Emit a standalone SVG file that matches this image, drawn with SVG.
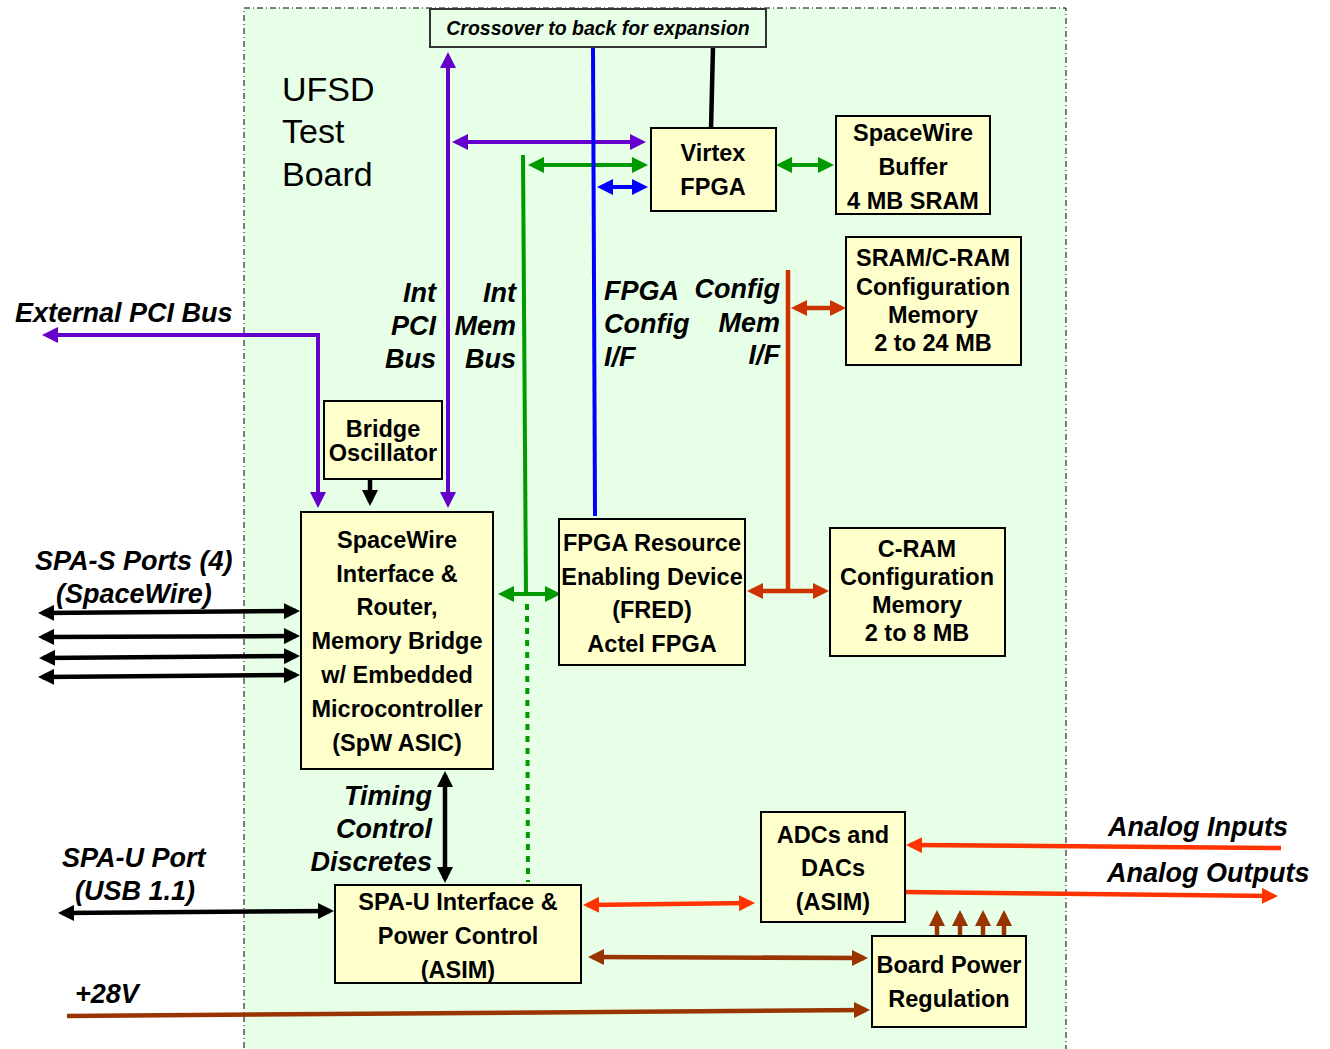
<svg xmlns="http://www.w3.org/2000/svg" width="1330" height="1049" viewBox="0 0 1330 1049">
<style>
.nb{fill:#ffffcc;stroke:#000;stroke-width:2}
.nt{font-family:"Liberation Sans",Arial,sans-serif;font-weight:bold;font-size:23.5px;fill:#000;text-anchor:middle}
.lb{font-family:"Liberation Sans",Arial,sans-serif;font-weight:bold;font-style:italic;font-size:27px;fill:#000}
.r{text-anchor:end}
.c{fill:none;stroke-linecap:butt;stroke-linejoin:miter}
.pu{stroke:#6600cc;stroke-width:4}
.gr{stroke:#009900;stroke-width:4}
.bl{stroke:#0000ff;stroke-width:4}
.bk{stroke:#000;stroke-width:4.5}
.rd{stroke:#cc3300;stroke-width:4.5}
.or{stroke:#ff3300;stroke-width:4.5}
.br{stroke:#993300;stroke-width:4.5}
</style>
<defs>
<marker id="aPu" viewBox="0 0 16 16" markerWidth="16" markerHeight="16" refX="12" refY="8" orient="auto-start-reverse" markerUnits="userSpaceOnUse"><path d="M0,0L16,8L0,16z" fill="#6600cc"/></marker>
<marker id="aGr" viewBox="0 0 16 16" markerWidth="16" markerHeight="16" refX="12" refY="8" orient="auto-start-reverse" markerUnits="userSpaceOnUse"><path d="M0,0L16,8L0,16z" fill="#009900"/></marker>
<marker id="aBl" viewBox="0 0 16 16" markerWidth="16" markerHeight="16" refX="12" refY="8" orient="auto-start-reverse" markerUnits="userSpaceOnUse"><path d="M0,0L16,8L0,16z" fill="#0000ff"/></marker>
<marker id="aBk" viewBox="0 0 16 16" markerWidth="16" markerHeight="16" refX="12" refY="8" orient="auto-start-reverse" markerUnits="userSpaceOnUse"><path d="M0,0L16,8L0,16z" fill="#000"/></marker>
<marker id="aRd" viewBox="0 0 16 16" markerWidth="16" markerHeight="16" refX="12" refY="8" orient="auto-start-reverse" markerUnits="userSpaceOnUse"><path d="M0,0L16,8L0,16z" fill="#cc3300"/></marker>
<marker id="aOr" viewBox="0 0 16 16" markerWidth="16" markerHeight="16" refX="12" refY="8" orient="auto-start-reverse" markerUnits="userSpaceOnUse"><path d="M0,0L16,8L0,16z" fill="#ff3300"/></marker>
<marker id="aBr" viewBox="0 0 16 16" markerWidth="16" markerHeight="16" refX="12" refY="8" orient="auto-start-reverse" markerUnits="userSpaceOnUse"><path d="M0,0L16,8L0,16z" fill="#993300"/></marker>
</defs>
<rect width="1330" height="1049" fill="#fff"/>
<g id="board">
<rect x="244" y="8" width="822" height="1050" fill="#e6ffe6" stroke="#000" stroke-width="1" stroke-dasharray="6 3 1 3"/>
<text x="282" y="101" font-family="'Liberation Sans',Arial,sans-serif" font-size="34" fill="#000">UFSD</text>
<text x="282" y="143" font-family="'Liberation Sans',Arial,sans-serif" font-size="34" fill="#000">Test</text>
<text x="282" y="186" font-family="'Liberation Sans',Arial,sans-serif" font-size="34" fill="#000">Board</text>
</g>
<g id="connectors">
<line class="c bk" x1="713" y1="47" x2="711" y2="129"/>
<line class="c pu" x1="448" y1="56" x2="448" y2="504" marker-start="url(#aPu)" marker-end="url(#aPu)"/>
<line class="c pu" x1="456" y1="142" x2="642" y2="142" marker-start="url(#aPu)" marker-end="url(#aPu)"/>
<polyline class="c pu" points="318,504 318,335 46,335" marker-start="url(#aPu)" marker-end="url(#aPu)"/>
<line class="c gr" x1="523" y1="155" x2="526" y2="596"/>
<line class="c gr" x1="527" y1="604" x2="528" y2="882" stroke-width="5" stroke-dasharray="6 6"/>
<line class="c gr" x1="532" y1="165" x2="644" y2="165" marker-start="url(#aGr)" marker-end="url(#aGr)"/>
<line class="c gr" x1="780" y1="165" x2="830" y2="165" marker-start="url(#aGr)" marker-end="url(#aGr)"/>
<line class="c gr" x1="502" y1="594" x2="557" y2="594" marker-start="url(#aGr)" marker-end="url(#aGr)"/>
<line class="c bl" x1="593" y1="47" x2="595" y2="516"/>
<line class="c bl" x1="601" y1="187" x2="644" y2="187" marker-start="url(#aBl)" marker-end="url(#aBl)"/>
<line class="c bk" x1="370" y1="479" x2="370" y2="502" marker-end="url(#aBk)"/>
<line class="c bk" x1="42" y1="613" x2="296" y2="611" stroke-width="5" marker-start="url(#aBk)" marker-end="url(#aBk)"/>
<line class="c bk" x1="42" y1="637" x2="296" y2="636" stroke-width="5" marker-start="url(#aBk)" marker-end="url(#aBk)"/>
<line class="c bk" x1="43" y1="658" x2="296" y2="656" stroke-width="5" marker-start="url(#aBk)" marker-end="url(#aBk)"/>
<line class="c bk" x1="42" y1="677" x2="296" y2="675" stroke-width="5" marker-start="url(#aBk)" marker-end="url(#aBk)"/>
<line class="c bk" x1="445" y1="775" x2="445" y2="879" marker-start="url(#aBk)" marker-end="url(#aBk)"/>
<line class="c bk" x1="62" y1="913" x2="330" y2="911" stroke-width="5" marker-start="url(#aBk)" marker-end="url(#aBk)"/>
<line class="c rd" x1="788" y1="270" x2="788" y2="591" stroke-width="5"/>
<line class="c rd" x1="795" y1="308" x2="842" y2="308" marker-start="url(#aRd)" marker-end="url(#aRd)"/>
<line class="c rd" x1="751" y1="591" x2="825" y2="591" marker-start="url(#aRd)" marker-end="url(#aRd)"/>
<line class="c or" x1="587" y1="905" x2="751" y2="903" marker-start="url(#aOr)" marker-end="url(#aOr)"/>
<line class="c or" x1="1281" y1="848" x2="910" y2="845" marker-end="url(#aOr)"/>
<line class="c or" x1="902" y1="892" x2="1274" y2="896" marker-end="url(#aOr)"/>
<line class="c br" x1="592" y1="957" x2="864" y2="958" marker-start="url(#aBr)" marker-end="url(#aBr)"/>
<line class="c br" x1="67" y1="1016" x2="866" y2="1010" stroke-width="5" marker-end="url(#aBr)"/>
<line class="c br" x1="937" y1="943" x2="937" y2="914" marker-end="url(#aBr)"/>
<line class="c br" x1="960" y1="943" x2="960" y2="914" marker-end="url(#aBr)"/>
<line class="c br" x1="983" y1="943" x2="983" y2="914" marker-end="url(#aBr)"/>
<line class="c br" x1="1004" y1="943" x2="1004" y2="914" marker-end="url(#aBr)"/>
</g>
<g id="labels">
<text class="lb" x="15" y="322">External PCI Bus</text>
<text class="lb r" x="436" y="302">Int</text>
<text class="lb r" x="436" y="335">PCI</text>
<text class="lb r" x="436" y="368">Bus</text>
<text class="lb r" x="516" y="302">Int</text>
<text class="lb r" x="516" y="335">Mem</text>
<text class="lb r" x="516" y="368">Bus</text>
<text class="lb" x="604" y="300">FPGA</text>
<text class="lb" x="604" y="333">Config</text>
<text class="lb" x="604" y="366">I/F</text>
<text class="lb r" x="780" y="298">Config</text>
<text class="lb r" x="780" y="332">Mem</text>
<text class="lb r" x="780" y="364">I/F</text>
<text class="lb" x="35" y="570">SPA-S Ports (4)</text>
<text class="lb" x="56" y="603">(SpaceWire)</text>
<text class="lb r" x="432" y="805">Timing</text>
<text class="lb r" x="432" y="838">Control</text>
<text class="lb r" x="432" y="871">Discretes</text>
<text class="lb" x="62" y="867">SPA-U Port</text>
<text class="lb" x="75" y="900">(USB 1.1)</text>
<text class="lb" x="75" y="1003">+28V</text>
<text class="lb" x="1108" y="836">Analog Inputs</text>
<text class="lb" x="1107" y="882">Analog Outputs</text>
</g>
<g id="crossover">
<rect x="430" y="9" width="336" height="38" fill="#e6ffe6" stroke="#333" stroke-width="2"/>
<text x="598" y="35" font-family="'Liberation Sans',Arial,sans-serif" font-weight="bold" font-style="italic" font-size="19.5" text-anchor="middle" fill="#000">Crossover to back for expansion</text>
</g>
<g id="virtex">
<rect class="nb" x="651" y="128" width="125" height="83"/>
<text class="nt" x="713" y="161">Virtex</text>
<text class="nt" x="713" y="195">FPGA</text>
</g>
<g id="spacewire-buffer">
<rect class="nb" x="836" y="116" width="154" height="98"/>
<text class="nt" x="913" y="141">SpaceWire</text>
<text class="nt" x="913" y="175">Buffer</text>
<text class="nt" x="913" y="209">4 MB SRAM</text>
</g>
<g id="sram-cram">
<rect class="nb" x="846" y="237" width="175" height="128"/>
<text class="nt" x="933" y="266">SRAM/C-RAM</text>
<text class="nt" x="933" y="295">Configuration</text>
<text class="nt" x="933" y="323">Memory</text>
<text class="nt" x="933" y="351">2 to 24 MB</text>
</g>
<g id="bridge-oscillator">
<rect class="nb" x="324" y="401" width="118" height="78"/>
<text class="nt" x="383" y="437" font-size="22">Bridge</text>
<text class="nt" x="383" y="461" font-size="22">Oscillator</text>
</g>
<g id="spw-asic">
<rect class="nb" x="301" y="512" width="192" height="257"/>
<text class="nt" x="397" y="548">SpaceWire</text>
<text class="nt" x="397" y="582">Interface &amp;</text>
<text class="nt" x="397" y="615">Router,</text>
<text class="nt" x="397" y="649">Memory Bridge</text>
<text class="nt" x="397" y="683">w/ Embedded</text>
<text class="nt" x="397" y="717">Microcontroller</text>
<text class="nt" x="397" y="751">(SpW ASIC)</text>
</g>
<g id="fred">
<rect class="nb" x="559" y="519" width="186" height="146"/>
<text class="nt" x="652" y="551">FPGA Resource</text>
<text class="nt" x="652" y="585">Enabling Device</text>
<text class="nt" x="652" y="618">(FRED)</text>
<text class="nt" x="652" y="652">Actel FPGA</text>
</g>
<g id="cram">
<rect class="nb" x="830" y="528" width="175" height="128"/>
<text class="nt" x="917" y="557">C-RAM</text>
<text class="nt" x="917" y="585">Configuration</text>
<text class="nt" x="917" y="613">Memory</text>
<text class="nt" x="917" y="641">2 to 8 MB</text>
</g>
<g id="adcs-dacs">
<rect class="nb" x="761" y="812" width="144" height="110"/>
<text class="nt" x="833" y="843">ADCs and</text>
<text class="nt" x="833" y="876">DACs</text>
<text class="nt" x="833" y="910">(ASIM)</text>
</g>
<g id="spa-u-interface">
<rect class="nb" x="335" y="885" width="246" height="98"/>
<text class="nt" x="458" y="910" font-size="21.5">SPA-U Interface &amp;</text>
<text class="nt" x="458" y="944" font-size="21.5">Power Control</text>
<text class="nt" x="458" y="978" font-size="21.5">(ASIM)</text>
</g>
<g id="board-power">
<rect class="nb" x="872" y="936" width="154" height="91"/>
<text class="nt" x="949" y="973">Board Power</text>
<text class="nt" x="949" y="1007">Regulation</text>
</g>
</svg>
